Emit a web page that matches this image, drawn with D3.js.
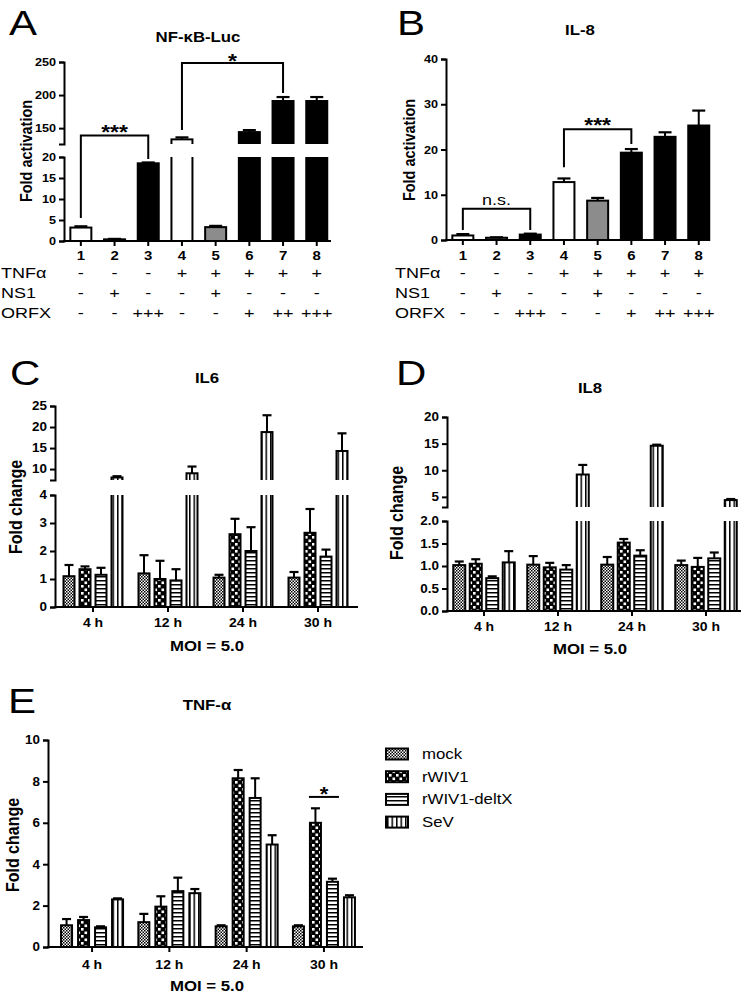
<!DOCTYPE html>
<html><head><meta charset="utf-8">
<script src="https://cdn.jsdelivr.net/npm/d3@7"></script>
<style>
body{margin:0;background:#fff}
svg{display:block}
</style>
</head><body>
<svg id="c" width="742" height="994"></svg>
<script>
// ---------------- data ----------------
const laneLabels = ["1","2","3","4","5","6","7","8"];
const laneFill   = ["#ffffff","#8c8c8c","#000000","#ffffff","#8c8c8c","#000000","#000000","#000000"];
const nfkbMean   = [3.2, 0.4, 18.5, 133, 3.3, 144, 191, 191];
const nfkbErr    = [3.5, 0.5, 18.7, 136, 3.6, 147, 197, 197];
const nfkbTicksLow  = [0, 5, 10, 15, 20];
const nfkbTicksHigh = [150, 200, 250];
const il8LucMean = [1.0, 0.5, 1.2, 12.8, 8.7, 19.3, 22.8, 25.3];
const il8LucErr  = [1.3, 0.6, 1.4, 13.6, 9.3, 20.1, 23.8, 28.6];
const il8LucTicks = [0, 10, 20, 30, 40];
const rowNames = ["TNFα", "NS1", "ORFX"];
const tnfRow  = ["-","-","-","+","+","+","+","+"];
const ns1Row  = ["-","+","-","-","+","-","-","-"];
const orfxRow = ["-","-","+++","-","-","+","++","+++"];

const timeLabels  = ["4 h","12 h","24 h","30 h"];
const seriesNames = ["mock","rWIV1","rWIV1-deltX","SeV"];
// rows = series (mock, rWIV1, rWIV1-deltX, SeV), columns = time points
const il6Mean = [[1.1,1.2,1.05,1.05],[1.35,1.0,2.6,2.65],[1.15,0.95,2.0,1.8],[8.0,9.0,18.8,14.3]];
const il6Err  = [[1.5,1.85,1.15,1.25],[1.45,1.65,3.15,3.5],[1.4,1.35,2.85,2.05],[8.3,10.6,22.8,18.5]];
const il6TicksLow = [0,1,2,3,4];
const il6TicksHigh = [10,15,20,25];
const il8Mean = [[1.02,1.03,1.03,1.02],[1.05,0.97,1.52,0.98],[0.73,0.92,1.23,1.17],[1.08,9.2,14.6,4.4]];
const il8Err  = [[1.1,1.22,1.2,1.12],[1.15,1.07,1.6,1.18],[0.77,1.02,1.35,1.3],[1.33,11.0,14.8,4.6]];
const il8TicksLow = [0,0.5,1.0,1.5,2.0];
const il8TicksHigh = [5,10,15,20];
const tnfMean = [[1.05,1.2,1.0,1.0],[1.3,1.95,8.15,6.0],[0.95,2.7,7.2,3.15],[2.3,2.6,4.95,2.4]];
const tnfErr  = [[1.35,1.6,1.05,1.05],[1.45,2.45,8.55,6.7],[1.0,3.35,8.15,3.3],[2.35,2.8,5.4,2.5]];
const tnfTicks = [0,2,4,6,8,10];

// ---------------- helpers ----------------
const FONT = '"Liberation Sans", Arial, Helvetica, sans-serif';
const SX = 1.2;
const svg = d3.select("#c");
const defs = svg.append("defs");

function label(g, x, y, s, o = {}) {
  const sx = o.sx ?? SX;
  const tr = o.rot ? `translate(${x},${y}) rotate(-90) scale(1,${sx})` : `translate(${x},${y}) scale(${sx},1)`;
  const t = g.append("text").attr("transform", tr)
    .attr("text-anchor", o.anchor || "middle")
    .attr("font-size", o.size || 12)
    .attr("font-weight", o.bold ? "bold" : "normal")
    .attr("font-family", FONT).attr("fill", "#000").text(s);
  return t;
}

// patterns
function pat(id, w, h, draw) {
  const p = defs.append("pattern").attr("id", id).attr("patternUnits", "userSpaceOnUse").attr("width", w).attr("height", h);
  draw(p);
}
pat("p-mock", 3, 3, p => {
  p.append("rect").attr("width", 3).attr("height", 3).attr("fill", "#fff");
  p.append("rect").attr("width", 1.5).attr("height", 1.5).attr("fill", "#000");
  p.append("rect").attr("x", 1.5).attr("y", 1.5).attr("width", 1.5).attr("height", 1.5).attr("fill", "#000");
});
pat("p-rwiv", 7, 7, p => {
  p.append("rect").attr("width", 7).attr("height", 7).attr("fill", "#000");
  p.append("rect").attr("x", 0.5).attr("y", 0.5).attr("width", 2.6).attr("height", 2.6).attr("fill", "#fff");
  p.append("rect").attr("x", 4).attr("y", 4).attr("width", 2.6).attr("height", 2.6).attr("fill", "#fff");
});
pat("p-delt", 4, 4, p => {
  p.append("rect").attr("width", 4).attr("height", 4).attr("fill", "#fff");
  p.append("rect").attr("width", 4).attr("height", 1.5).attr("fill", "#000");
});
pat("p-sev", 4.5, 4, p => {
  p.append("rect").attr("width", 4.5).attr("height", 4).attr("fill", "#fff");
  p.append("rect").attr("width", 1.5).attr("height", 4).attr("fill", "#000");
});
const seriesFill = ["url(#p-mock)","url(#p-rwiv)","url(#p-delt)","url(#p-sev)"];

function barPanel(cfg) {
  const g = svg.append("g");
  const segs = cfg.segments.map((s, i) => Object.assign({}, s, {i, scale: d3.scaleLinear().domain(s.domain).range(s.range)}));
  const baseY = segs[0].range[0];
  const segOf = v => { let r = segs[0]; segs.forEach(s => { if (v >= s.domain[0]) r = s; }); return r; };
  const yOf = v => segOf(v).scale(v);
  segs.forEach(s => {
    const id = `${cfg.id}-clip${s.i}`;
    const t = s.i === segs.length - 1 ? s.range[1] - 40 : s.range[1];
    const b = s.i === 0 ? s.range[0] + 3 : s.range[0];
    defs.append("clipPath").attr("id", id).append("rect").attr("x", 0).attr("y", t).attr("width", 742).attr("height", b - t);
    s.clip = id;
  });
  // bars
  cfg.bars.forEach(d => {
    segs.forEach(s => {
      if (s.i > 0 && d.v <= s.domain[0]) return;
      const yTop = d.v >= s.domain[1] ? s.range[1] - 6 : s.scale(d.v);
      const yBot = s.i === 0 ? s.range[0] : s.range[0] + 6;
      g.append("rect").attr("clip-path", `url(#${s.clip})`)
        .attr("x", d.x - d.w / 2 + 1).attr("width", d.w - 2)
        .attr("y", yTop).attr("height", Math.max(0, yBot - yTop))
        .attr("fill", d.fill).attr("stroke", "#000").attr("stroke-width", 2);
    });
    const s = segOf(d.v);
    const y0 = s.scale(d.v), y1 = s.scale(d.e);
    g.append("line").attr("x1", d.x).attr("x2", d.x).attr("y1", y0).attr("y2", y1).attr("stroke", "#000").attr("stroke-width", 2);
    g.append("line").attr("x1", d.x - cfg.capW / 2).attr("x2", d.x + cfg.capW / 2).attr("y1", y1).attr("y2", y1).attr("stroke", "#000").attr("stroke-width", 2.2);
  });
  // y axes
  segs.forEach(s => {
    const ax = d3.axisLeft(s.scale).tickValues(s.ticks).tickSizeInner(5).tickSizeOuter(5).tickPadding(2).tickFormat(s.fmt || d3.format("d"));
    const a = g.append("g").attr("transform", `translate(${cfg.axisX},0)`).call(ax);
    a.select(".domain").attr("stroke-width", 2);
    a.selectAll(".tick line").attr("stroke-width", 2);
    a.selectAll(".tick text").attr("font-size", cfg.yTickSize).attr("font-weight", "bold")
      .attr("font-family", FONT).attr("fill", "#000")
      .attr("x", -8 / cfg.tickSX).attr("transform", `scale(${cfg.tickSX},1)`);
  });
  // x axis
  g.append("line").attr("x1", cfg.axisX - 1).attr("x2", cfg.axisEnd).attr("y1", baseY).attr("y2", baseY).attr("stroke", "#000").attr("stroke-width", 2);
  cfg.xTicks.forEach(t => {
    g.append("line").attr("x1", t.x).attr("x2", t.x).attr("y1", baseY).attr("y2", baseY + 5).attr("stroke", "#000").attr("stroke-width", 2);
    label(g, t.x, cfg.xLabelY, t.label, {size: cfg.xTickSize, bold: true, sx: cfg.tickSX});
  });
  return {g, yOf};
}

function bracket(g, x1, x2, yLine, yLeft, yRight) {
  g.append("path").attr("d", `M${x1},${yLeft}V${yLine}H${x2}V${yRight}`)
    .attr("fill", "none").attr("stroke", "#000").attr("stroke-width", 2);
}

// ---------------- Panel A ----------------
{
  const x = d3.scaleBand().domain(laneLabels).range([64, 64 + 8 * 33.7]);
  const cx = i => x(laneLabels[i]) + x.bandwidth() / 2;
  const bars = laneLabels.map((l, i) => ({x: cx(i), w: 23, v: nfkbMean[i], e: nfkbErr[i], fill: laneFill[i]}));
  const p = barPanel({
    id: "A", axisX: 64, axisEnd: 331, capW: 13, yTickSize: 11, xTickSize: 13, tickSX: 1.15, xLabelY: 260,
    segments: [
      {domain: [0, 20], range: [241, 157], ticks: nfkbTicksLow},
      {domain: [126, 250], range: [144, 62], ticks: nfkbTicksHigh}
    ],
    bars, xTicks: laneLabels.map((l, i) => ({x: cx(i), label: l}))
  });
  const g = p.g;
  bracket(g, cx(0), cx(2), p.yOf(139), p.yOf(5.5), p.yOf(19.5));
  label(g, (cx(0) + cx(2)) / 2, p.yOf(139) + 4, "***", {size: 20, bold: true, sx: 1.15});
  bracket(g, cx(3), cx(6), p.yOf(248.5), p.yOf(147), p.yOf(203));
  label(g, (cx(3) + cx(6)) / 2, p.yOf(248.5) + 5, "*", {size: 20, bold: true, sx: 1.15});
  [tnfRow, ns1Row, orfxRow].forEach((row, r) => {
    const y = 278 + r * 20;
    label(g, 1, y, rowNames[r], {size: 15, anchor: "start"});
    row.forEach((s, i) => label(g, cx(i), y, s, {size: 15}));
  });
  label(g, 9, 35, "A", {size: 35, anchor: "start"});
  label(g, 198, 42, "NF-κB-Luc", {size: 14, bold: true});
  label(g, 32, 151, "Fold activation", {size: 14.5, bold: true, rot: true});
}

// ---------------- Panel B ----------------
{
  const x = d3.scaleBand().domain(laneLabels).range([446, 446 + 8 * 33.7]);
  const cx = i => x(laneLabels[i]) + x.bandwidth() / 2;
  const bars = laneLabels.map((l, i) => ({x: cx(i), w: 23, v: il8LucMean[i], e: il8LucErr[i], fill: laneFill[i]}));
  const p = barPanel({
    id: "B", axisX: 446, axisEnd: 709, capW: 13, yTickSize: 11, xTickSize: 13, tickSX: 1.15, xLabelY: 260,
    segments: [{domain: [0, 40], range: [240, 59], ticks: il8LucTicks}],
    bars, xTicks: laneLabels.map((l, i) => ({x: cx(i), label: l}))
  });
  const g = p.g;
  bracket(g, cx(0), cx(2), p.yOf(6.9), p.yOf(2.2), p.yOf(2.2));
  label(g, (cx(0) + cx(2)) / 2, p.yOf(6.9) - 4, "n.s.", {size: 15});
  bracket(g, cx(3), cx(5), p.yOf(24.5), p.yOf(16.1), p.yOf(21.2));
  label(g, (cx(3) + cx(5)) / 2, p.yOf(24.5) + 3, "***", {size: 20, bold: true, sx: 1.15});
  [tnfRow, ns1Row, orfxRow].forEach((row, r) => {
    const y = 278 + r * 20;
    label(g, 395, y, rowNames[r], {size: 15, anchor: "start"});
    row.forEach((s, i) => label(g, cx(i), y, s, {size: 15}));
  });
  label(g, 397, 35, "B", {size: 35, anchor: "start"});
  label(g, 580, 35, "IL-8", {size: 14, bold: true});
  label(g, 415, 150, "Fold activation", {size: 14.5, bold: true, rot: true});
}

// ---------------- grouped panels ----------------
function grouped(cfg) {
  const outer = d3.scaleBand().domain(timeLabels).range(cfg.range).paddingOuter(cfg.po || 0);
  const s = cfg.step, w = cfg.barW;
  const inner = d3.scaleBand().domain(seriesNames).range([-2 * s, 2 * s]).paddingInner((s - w) / s).paddingOuter((s - w) / (2 * s));
  const gc = t => outer(t) + outer.bandwidth() / 2;
  const bars = [];
  seriesNames.forEach((nm, si) => timeLabels.forEach((t, ti) => {
    bars.push({x: gc(t) + inner(nm) + inner.bandwidth() / 2, w, v: cfg.mean[si][ti], e: cfg.err[si][ti], fill: seriesFill[si]});
  }));
  const p = barPanel({
    id: cfg.id, axisX: cfg.axisX, axisEnd: cfg.axisEnd, capW: 9, yTickSize: 12, xTickSize: 12.5, tickSX: 1.12, xLabelY: cfg.xLabelY,
    segments: cfg.segments, bars, xTicks: timeLabels.map(t => ({x: gc(t), label: t}))
  });
  label(p.g, cfg.titleX, cfg.moiY, "MOI = 5.0", {size: 14, bold: true});
  return Object.assign(p, {gc, inner, outer});
}

// Panel C
{
  const p = grouped({
    id: "C", range: [55.5, 355.5], step: 16, barW: 13, axisX: 55, axisEnd: 358, xLabelY: 627, moiY: 651, titleX: 207,
    mean: il6Mean, err: il6Err,
    segments: [
      {domain: [0, 4], range: [607, 495], ticks: il6TicksLow},
      {domain: [7.4, 25], range: [480, 406], ticks: il6TicksHigh}
    ]
  });
  label(p.g, 10, 385, "C", {size: 35, anchor: "start"});
  label(p.g, 207, 383, "IL6", {size: 14, bold: true});
  label(p.g, 22, 507, "Fold change", {size: 16, bold: true, rot: true});
}
// Panel D
{
  const p = grouped({
    id: "D", range: [447, 743], step: 16.5, barW: 14, axisX: 447, axisEnd: 741, xLabelY: 631, moiY: 654, titleX: 590,
    mean: il8Mean, err: il8Err,
    segments: [
      {domain: [0, 2], range: [611, 521], ticks: il8TicksLow, fmt: d3.format(".1f")},
      {domain: [3.1, 20], range: [507, 417], ticks: il8TicksHigh}
    ]
  });
  label(p.g, 396, 385, "D", {size: 35, anchor: "start"});
  label(p.g, 590, 393, "IL8", {size: 14, bold: true});
  label(p.g, 403, 513, "Fold change", {size: 16, bold: true, rot: true});
}
// Panel E
{
  const p = grouped({
    id: "E", range: [48, 368], po: 0.07, step: 17, barW: 13, axisX: 48, axisEnd: 363, xLabelY: 969, moiY: 991, titleX: 207,
    mean: tnfMean, err: tnfErr,
    segments: [{domain: [0, 10], range: [947, 740], ticks: tnfTicks}]
  });
  const g = p.g;
  const x1 = p.gc("30 h") + p.inner("rWIV1"), x2 = p.gc("30 h") + p.inner("rWIV1-deltX") + p.inner.bandwidth();
  const yl = p.yOf(7.25);
  g.append("line").attr("x1", x1).attr("x2", x2).attr("y1", yl).attr("y2", yl).attr("stroke", "#000").attr("stroke-width", 2);
  label(g, (x1 + x2) / 2, yl + 4, "*", {size: 20, bold: true, sx: 1.1});
  label(g, 8, 713, "E", {size: 35, anchor: "start"});
  label(g, 207, 710, "TNF-α", {size: 14, bold: true});
  label(g, 19, 845, "Fold change", {size: 16, bold: true, rot: true});
  // legend
  const lg = svg.append("g");
  seriesNames.forEach((nm, i) => {
    const cy = 754 + i * 22.7;
    lg.append("rect").attr("x", 386).attr("y", cy - 5.5).attr("width", 22).attr("height", 11)
      .attr("fill", seriesFill[i]).attr("stroke", "#000").attr("stroke-width", 2);
    label(lg, 422, cy + 5, nm, {size: 14, anchor: "start"});
  });
}
</script>
</body></html>
